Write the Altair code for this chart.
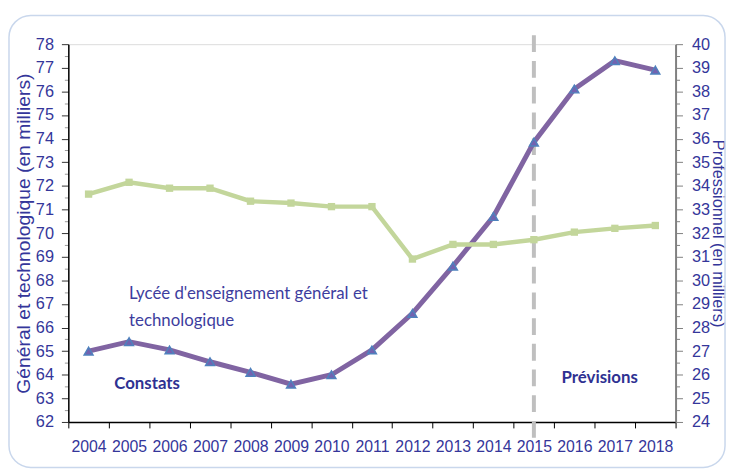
import altair as alt
import pandas as pd

years = list(range(2004, 2019))
general = [65.0, 65.4, 65.05, 64.55, 64.1, 63.6, 64.0, 65.05, 66.6, 68.6, 70.7,
           73.85, 76.1, 77.3, 76.9]
professionnel = [33.65, 34.15, 33.9, 33.9, 33.35, 33.27, 33.12, 33.12, 30.9, 31.52,
                 31.52, 31.72, 32.04, 32.2, 32.32]

annot_years = [2005, 2005, 2016]
annot_values = [67.4, 63.6, 63.85]
annot_texts = [["Lycée d'enseignement général et", "technologique"], ["Constats"], ["Prévisions"]]
split_year = [2015]

df = pd.DataFrame({"annee": years, "general": general, "pro": professionnel})

LABEL = "#34369A"
W, H = 614, 382

xmajor = "datum.value % 1 === 0"
xenc = alt.X("annee:Q", scale=alt.Scale(domain=[2003.5, 2018.5], nice=False, zero=False),
             axis=alt.Axis(title=None, values=[2003.5 + 0.5 * i for i in range(31)],
                           labelExpr=f"{xmajor} ? format(datum.value, 'd') : ''",
                           labelOverlap=False, labelFlush=False,
                           tickSize={"condition": {"test": xmajor, "value": 0}, "value": 6},
                           domainColor="#000000", tickColor="#000000", labelPadding=17,
                           labelFontSize=16, labelColor=LABEL, labelFont="Liberation Sans",
                           domainWidth=1.5, grid=False))

ymajor = "datum.value % 1 === 0"
yleft_scale = alt.Scale(domain=[62, 78], nice=False, zero=False)
yleft_axis = alt.Axis(title="Général et technologique (en milliers)",
                      values=[62 + 0.5 * i for i in range(33)],
                      labelExpr=f"{ymajor} ? format(datum.value, 'd') : ''", labelOverlap=False,
                      labelFlush=False,
                      tickSize={"condition": {"test": ymajor, "value": 7}, "value": 4},
                      tickColor={"condition": {"test": ymajor, "value": "#333333"}, "value": "#999999"},
                      domainColor="#000000", domainWidth=1.5, grid=False,
                      labelFontSize=16.5, labelColor=LABEL, labelFont="Liberation Sans",
                      labelPadding=8, titleFontSize=19.5, titleColor=LABEL,
                      titleFont="Liberation Sans", titleFontWeight="normal", titlePadding=2)
yleft = alt.Y("general:Q", scale=yleft_scale, axis=yleft_axis)

gen_line = alt.Chart(df).mark_line(color="#8064A2", strokeWidth=5).encode(x=xenc, y=yleft)
gen_pts = alt.Chart(df).mark_point(shape="triangle-up", filled=True, size=80, fill="#7262B0",
                                   stroke="#4F81BD", strokeWidth=1.5, opacity=1).encode(x=xenc, y=yleft)

rule_df = pd.DataFrame({"annee": split_year})
rule = alt.Chart(rule_df).mark_rule(color="#BFBFBF", strokeWidth=4, strokeDash=[17, 9]).encode(
    x=xenc, y=alt.value(-9), y2=alt.value(405))

ann_df = pd.DataFrame({"annee": annot_years, "general": annot_values, "txt": annot_texts})
ann1 = alt.Chart(ann_df.iloc[[0]]).mark_text(align="left", baseline="middle", fontSize=17,
                                             font="Lato", color="#3D3D9E", lineHeight=27).encode(
    x=xenc, y=yleft, text="txt")
ann2 = alt.Chart(ann_df.iloc[[1]]).mark_text(align="left", baseline="middle", fontSize=17,
                                             font="Lato", fontWeight="bold", color="#2E3192", dx=-15).encode(
    x=xenc, y=yleft, text="txt")
ann3 = alt.Chart(ann_df.iloc[[2]]).mark_text(align="left", baseline="middle", fontSize=17,
                                             font="Lato", fontWeight="bold", color="#2E3192", dx=-13).encode(
    x=xenc, y=yleft, text="txt")

frame = alt.Chart(alt.Data(values=[{"a": 1}])).mark_rect(
    fillOpacity=0, stroke="#C9D7EC", strokeWidth=1.5, cornerRadius=22).encode(
    x=alt.value(-60), x2=alt.value(664), y=alt.value(-29), y2=alt.value(428))

left = alt.layer(frame, rule, gen_line, gen_pts, ann1, ann2, ann3)

yright = alt.Y("pro:Q", scale=alt.Scale(domain=[24, 40], nice=False, zero=False),
               axis=alt.Axis(orient="right", title="Professionnel (en milliers)",
                             values=[24 + 0.5 * i for i in range(33)],
                             labelExpr=f"{ymajor} ? format(datum.value, 'd') : ''", labelOverlap=False,
                             labelFlush=False,
                             tickSize={"condition": {"test": ymajor, "value": 7}, "value": 4},
                             tickColor="#808080", domainColor="#808080", domainWidth=2, grid=False,
                             labelFontSize=16.5, labelColor=LABEL, labelFont="Liberation Sans",
                             labelPadding=9, titleFontSize=16.5, titleColor=LABEL,
                             titleFont="Liberation Sans", titleFontWeight="normal", titlePadding=0))

pro_line = alt.Chart(df).mark_line(color="#C3D69B", strokeWidth=4.5).encode(x=xenc, y=yright)
pro_pts = alt.Chart(df).mark_point(shape="square", filled=True, size=55, color="#C3D69B",
                                   opacity=1).encode(x=xenc, y=yright)
right = alt.layer(pro_line, pro_pts)

chart = alt.layer(left, right).resolve_scale(y="independent").properties(
    width=W, height=H,
    autosize=alt.AutoSizeParams(type="none"),
    padding={"left": 61, "top": 34, "right": 52, "bottom": 47},
).configure_view(stroke=None).configure(background="white")

chart.save("out.html", embed_options={"renderer": "svg", "actions": False})
